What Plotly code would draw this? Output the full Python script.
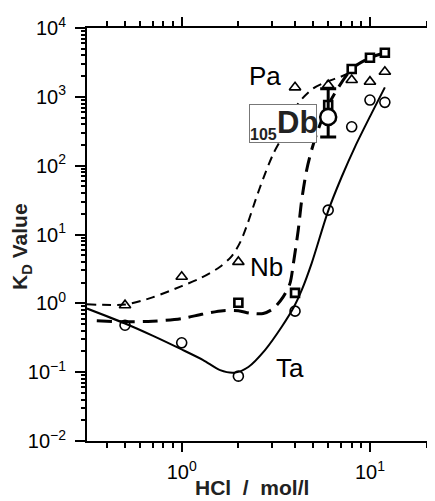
import numpy as np
import plotly.graph_objects as go

# ---- data ----
# measured points
hcl_tri = [0.5, 1, 2, 4, 6, 8, 10, 12]
kd_tri = [0.94, 2.43, 4.0, 1374, 1483, 1755, 1660, 2317]

hcl_sq = [2, 4, 6, 8, 10, 12]
kd_sq = [1.02, 1.42, 760, 2535, 3700, 4375]

hcl_circ = [0.5, 1, 2, 4, 6, 8, 10, 12]
kd_circ = [0.48, 0.267, 0.0875, 0.77, 22.6, 367, 898, 832]

hcl_db = [6]
kd_db = [508]
kd_db_hi = [1306]
kd_db_lo = [261]

# fitted curves
pa_x = [0.314, 0.5, 0.7, 1.0, 1.25, 1.6, 1.85, 2.05, 2.25, 2.45, 2.71, 3.07, 3.5, 4.16, 5.0, 5.9, 7.0, 8.0]
pa_y = [0.97, 0.96, 1.22, 1.78, 2.3, 3.4, 4.9, 7.8, 15, 30, 65, 150, 290, 804, 1328, 1660, 1960, 2300]

nb_x = [0.354, 0.5, 0.7, 1.0, 1.3, 1.66, 2.0, 2.3, 2.71, 3.07, 3.46, 3.76, 3.92, 4.16, 4.34,
        4.61, 4.9, 5.3, 6.0, 8.0, 10.0, 12.0]
nb_y = [0.557, 0.54, 0.55, 0.60, 0.70, 0.78, 0.78, 0.72, 0.71, 0.84, 1.24, 1.95, 3.8, 11.6, 31.6,
        86, 169, 330, 760, 2535, 3700, 4375]

ta_x = [0.314, 0.5, 0.7, 1.0, 1.3, 1.6, 1.9, 2.26, 2.77, 3.4, 3.95, 4.34, 4.9, 6.0, 7.08, 8.33, 10.2, 12.0]
ta_y = [0.84, 0.51, 0.34, 0.214, 0.15, 0.107, 0.098, 0.119, 0.209, 0.456, 0.89, 1.55, 3.8, 22, 69, 188, 575, 1374]

# tick labels
x_tickvals = [1, 10]
x_ticktext = ["10<sup>0</sup>", "10<sup>1</sup>"]
y_tickvals = [1e-2, 1e-1, 1e0, 1e1, 1e2, 1e3, 1e4]
y_ticktext = ["10<sup>\u22122</sup>", "10<sup>\u22121</sup>", "10<sup>0</sup>", "10<sup>1</sup>",
              "10<sup>2</sup>", "10<sup>3</sup>", "10<sup>4</sup>"]

# label positions (data units)
labels = [("Pa", 2.77, 2005), ("Nb", 2.82, 3.36), ("Ta", 3.76, 0.1143)]

FONT = "Liberation Sans, Arial, Helvetica, sans-serif"

x_minor = [m * 10.0 ** d for d in (-1, 0, 1) for m in range(2, 10)]
y_minor = [m * 10.0 ** d for d in range(-2, 4) for m in range(2, 10)]

fig = go.Figure()

fig.add_trace(go.Scatter(x=pa_x, y=pa_y, mode="lines",
                         line=dict(color="black", width=2, dash="9px,6px", shape="spline", smoothing=0.8),
                         hoverinfo="skip"))
fig.add_trace(go.Scatter(x=nb_x, y=nb_y, mode="lines",
                         line=dict(color="black", width=3, dash="15px,8px", shape="spline", smoothing=0.8),
                         hoverinfo="skip"))
fig.add_trace(go.Scatter(x=ta_x, y=ta_y, mode="lines",
                         line=dict(color="black", width=2, shape="spline", smoothing=0.8),
                         hoverinfo="skip"))

fig.add_trace(go.Scatter(x=hcl_tri, y=kd_tri, mode="markers",
                         marker=dict(symbol="triangle-up-open", size=10, color="black", line=dict(width=1.6))))
fig.add_trace(go.Scatter(x=hcl_sq, y=kd_sq, mode="markers",
                         marker=dict(symbol="square", size=8, color="white", line=dict(width=2.6, color="black"))))
fig.add_trace(go.Scatter(x=hcl_circ, y=kd_circ, mode="markers",
                         marker=dict(symbol="circle-open", size=10, color="black", line=dict(width=1.6))))

fig.add_trace(go.Scatter(
    x=hcl_db, y=kd_db, mode="markers",
    marker=dict(symbol="circle", size=16, color="white", line=dict(width=2.5, color="black")),
    error_y=dict(type="data", symmetric=False,
                 array=[h - v for h, v in zip(kd_db_hi, kd_db)],
                 arrayminus=[v - l for v, l in zip(kd_db, kd_db_lo)],
                 color="black", thickness=3, width=8)))

annotations = []
for txt, lx, ly in labels:
    annotations.append(dict(x=np.log10(lx), y=np.log10(ly), xref="x", yref="y", text=txt,
                            showarrow=False, font=dict(family=FONT, size=26, color="black")))

# 105Db box
annotations.append(dict(x=np.log10(3.44), y=np.log10(416), xref="x", yref="y", text=" ",
                        showarrow=False, width=66, height=37, bgcolor="white",
                        bordercolor="#777777", borderwidth=1, borderpad=0,
                        font=dict(family=FONT, size=10)))
annotations.append(dict(x=np.log10(4.10), y=np.log10(423), xref="x", yref="y", text="<b>Db</b>",
                        showarrow=False, font=dict(family=FONT, size=31, color="#222222")))
annotations.append(dict(x=np.log10(2.71), y=np.log10(288), xref="x", yref="y", text="<b>105</b>",
                        showarrow=False, font=dict(family=FONT, size=16, color="#222222")))

# axis titles
annotations.append(dict(x=0.485, y=-0.113, xref="paper", yref="paper",
                        xanchor="center", yanchor="middle",
                        text="<b>HCl\u00a0 /\u00a0 mol/l</b>", showarrow=False,
                        font=dict(family=FONT, size=21, color="#222222")))
annotations.append(dict(x=-0.194, y=0.47, xref="paper", yref="paper",
                        xanchor="center", yanchor="middle",
                        text="<b>K<sub>D</sub> Value</b>", textangle=-90, showarrow=False,
                        font=dict(family=FONT, size=21, color="#222222")))

# the page body adds an 8px margin, so the figure is 8px smaller on each offset side
fig.update_layout(
    width=427, height=493,
    margin=dict(l=79, r=8, t=20, b=60, autoexpand=False),
    paper_bgcolor="white", plot_bgcolor="white",
    showlegend=False,
    annotations=annotations,
    font=dict(family=FONT, color="black"),
)

fig.update_xaxes(type="log", range=[-0.503, 1.303], automargin=False,
                 showgrid=False, zeroline=False,
                 showline=True, linecolor="black", linewidth=2, mirror="ticks",
                 ticks="outside", ticklen=9, tickwidth=1.5, tickcolor="black",
                 ticklabelstandoff=3,
                 tickmode="array", tickvals=x_tickvals, ticktext=x_ticktext,
                 tickfont=dict(family=FONT, size=20, color="black"),
                 minor=dict(tickmode="array", tickvals=x_minor, ticks="outside",
                            ticklen=5, tickwidth=1.5, tickcolor="black", showgrid=False))
fig.update_yaxes(type="log", range=[-2, 4], automargin=False,
                 showgrid=False, zeroline=False,
                 showline=True, linecolor="black", linewidth=2, mirror="ticks",
                 ticks="outside", ticklen=10, tickwidth=1.5, tickcolor="black",
                 ticklabelstandoff=5,
                 tickmode="array", tickvals=y_tickvals, ticktext=y_ticktext,
                 tickfont=dict(family=FONT, size=20, color="black"),
                 minor=dict(tickmode="array", tickvals=y_minor, ticks="outside",
                            ticklen=4, tickwidth=1.5, tickcolor="black", showgrid=False))

fig.write_html("out.html")
